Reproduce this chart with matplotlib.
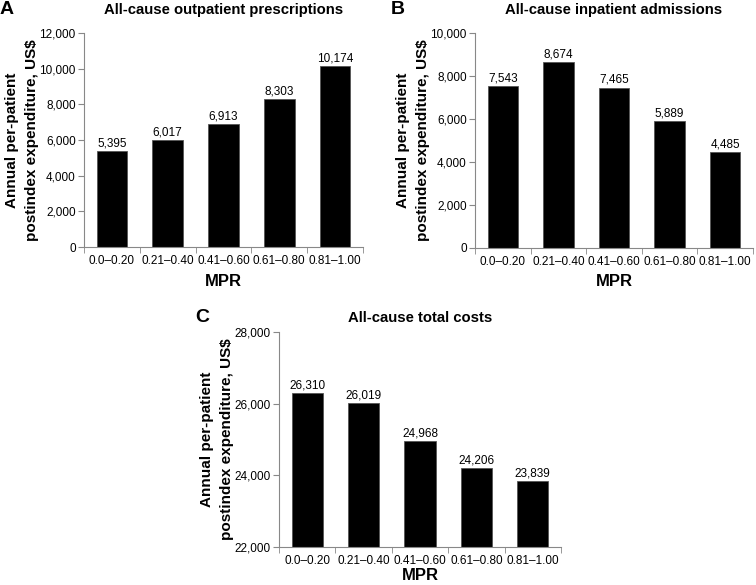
import matplotlib.pyplot as plt
import numpy as np

plt.rcParams['font.family'] = ['Liberation Sans', 'DejaVu Sans']

categories = ["0.0\u20130.20", "0.21\u20130.40", "0.41\u20130.60", "0.61\u20130.80", "0.81\u20131.00"]
outpatient = [5395, 6017, 6913, 8303, 10174]
inpatient = [7543, 8674, 7465, 5889, 4485]
total = [26310, 26019, 24968, 24206, 23839]

W, H = 756, 585
fig = plt.figure(figsize=(W / 100, H / 100), dpi=100)


def px_axes(left, top, right, bottom):
    return fig.add_axes([left / W, 1 - bottom / H, (right - left) / W, (bottom - top) / H])


def draw_panel(ax, values, title, letter, ylim, step, label_off, title_pad, letter_up, mpr_down):
    x = np.arange(len(categories))
    ax.bar(x, values, width=0.55, color="black", edgecolor="#555555", linewidth=0.6)
    for xi, v in zip(x, values):
        ax.text(xi, v + label_off, f"{v:,}", ha="center", va="bottom", fontsize=8.5)
    ax.set_xlim(-0.5, len(categories) - 0.5)
    ax.set_ylim(*ylim)
    ax.set_yticks(np.arange(ylim[0], ylim[1] + 1, step))
    ax.yaxis.set_major_formatter(plt.FuncFormatter(lambda v, p: f"{int(v):,}"))
    ax.set_xticks(x)
    ax.set_xticklabels(categories, fontsize=8.5)
    ax.set_xticks(np.arange(-0.5, len(categories)), minor=True)
    ax.tick_params(axis="x", which="major", length=0, pad=6)
    ax.tick_params(axis="x", which="minor", length=4, color="#888888")
    ax.tick_params(axis="y", length=4, color="#888888", labelsize=8.5, pad=2)
    for s in ["top", "right"]:
        ax.spines[s].set_visible(False)
    for s in ["left", "bottom"]:
        ax.spines[s].set_color("#888888")
    bbox = ax.get_position()
    wpx = bbox.width * W
    hpx = bbox.height * H
    ax.set_xlabel("MPR", fontsize=12, fontweight="bold", va="center")
    ax.xaxis.set_label_coords(0.5, -mpr_down / hpx)
    ax.set_ylabel("Annual per-patient\npostindex expenditure, US$", fontsize=11,
                  fontweight="bold", va="center", linespacing=1.5)
    ax.yaxis.set_label_coords(-62 / wpx, 0.5)
    ax.set_title(title, fontsize=10.7, fontweight="bold", pad=title_pad)
    fig.text(bbox.x0 - 84 / W, bbox.y1 + letter_up / H, letter, fontsize=14,
             fontweight="bold", va="center", ha="left")


axA = px_axes(84, 33, 363, 247)
draw_panel(axA, outpatient, "All-cause outpatient prescriptions", "A", (0, 12000), 2000, 80, 14, 23, 34)

axB = px_axes(475, 33, 753, 248)
draw_panel(axB, inpatient, "All-cause inpatient admissions", "B", (0, 10000), 2000, 70, 14, 23, 34)

axC = px_axes(279, 332, 561, 547)
draw_panel(axC, total, "All-cause total costs", "C", (22000, 28000), 2000, 40, 7, 15, 29)

fig.savefig("out.png", dpi=100)
